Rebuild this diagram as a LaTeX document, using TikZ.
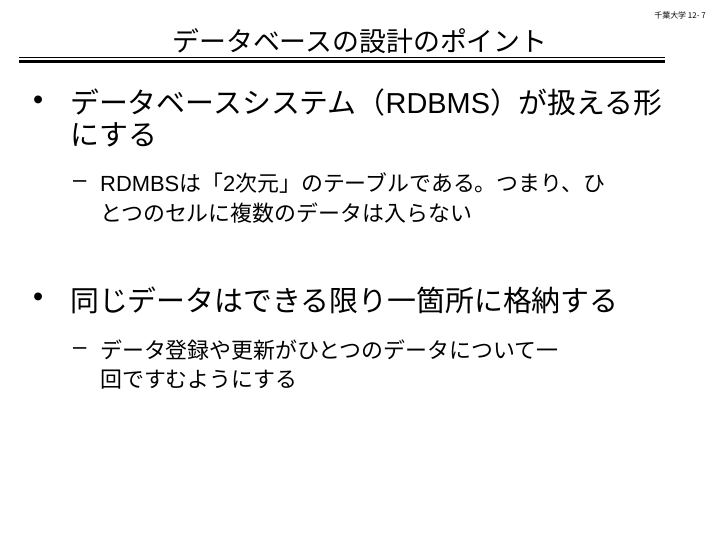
\documentclass[tikz,border=0pt]{standalone}
\usepackage{fontspec}
\newfontfamily\jp{Noto Sans CJK JP}
\newfontfamily\ls{Liberation Sans}
\begin{document}
\begin{tikzpicture}[x=1bp,y=-1bp,
  tx/.style={anchor=west,inner sep=0pt,font=\jp},
  big/.style={tx,font=\jp\fontsize{29}{34}\selectfont},
  sub/.style={tx,font=\jp\fontsize{22}{26}\selectfont}]
\useasboundingbox (0,0) rectangle (720,540);
\node[inner sep=0pt,font=\jp\fontsize{27}{32}\selectfont] (title) at (360,41) {データベースの設計のポイント};
\node[inner sep=0pt,anchor=east,font=\jp\fontsize{8}{10}\selectfont] (pg) at (706,15) {千葉大学 12- 7};
\coordinate (l1) at (19,58); \coordinate (r1) at (665,58);
\coordinate (l2) at (19,61.5); \coordinate (r2) at (665,61.5);
\draw[line width=1bp] (l1) -- (r1);
\draw[line width=3bp] (l2) -- (r2);
\node[big,font=\ls\fontsize{29}{34}\selectfont] (b1) at (33,103) {•};
\node[big] (t1a) at (70,103) {データベースシステム（{\ls RDBMS}）が扱える形};
\node[big] (t1b) at (70,135) {にする};
\node[sub,font=\ls\fontsize{24}{26}\selectfont] (d1) at (73,184) {–};
\node[sub] (s1a) at (100,183) {{\ls RDMBS}は「{\ls 2}次元」のテーブルである。つまり、ひ};
\node[sub] (s1b) at (100,213) {とつのセルに複数のデータは入らない};
\node[big,font=\ls\fontsize{29}{34}\selectfont] (b2) at (33,300) {•};
\node[big] (t2) at (70,300) {同じデータはできる限り一箇所に格納する};
\node[sub,font=\ls\fontsize{24}{26}\selectfont] (d2) at (73,351) {–};
\node[sub] (s2a) at (100,350) {データ登録や更新がひとつのデータについて一};
\node[sub] (s2b) at (100,380) {回ですむようにする};
\end{tikzpicture}
\end{document}
